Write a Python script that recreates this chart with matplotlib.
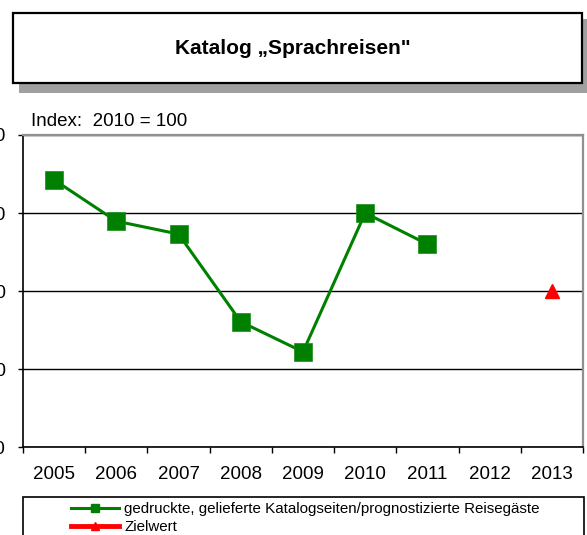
import matplotlib
matplotlib.use("Agg")
import matplotlib.pyplot as plt
from matplotlib.patches import Rectangle
from matplotlib.lines import Line2D

plt.rcParams['font.family'] = ['Liberation Sans', 'DejaVu Sans']

# Daten (Index: 2010 = 100)
jahre = ["2005", "2006", "2007", "2008", "2009", "2010", "2011", "2012", "2013"]
katalog_jahre = ["2005", "2006", "2007", "2008", "2009", "2010", "2011"]
katalog_werte = [108.5, 97.9, 94.6, 72.1, 64.4, 100.0, 92.0]
ziel_jahre = ["2013"]
ziel_werte = [80.0]
y_ticks = [40, 60, 80, 100, 120]

W, H = 587, 535
fig = plt.figure(figsize=(W / 100, H / 100), dpi=100)

def fx(px):
    return px / W

def fy(py):
    return 1 - py / H

# Titelkasten mit Schatten
fig.patches.append(Rectangle((fx(19), fy(93)), fx(592) - fx(19), fy(19) - fy(93),
                             transform=fig.transFigure, facecolor="#a0a0a0",
                             edgecolor="none", zorder=0))
fig.patches.append(Rectangle((fx(13), fy(83)), fx(582) - fx(13), fy(13) - fy(83),
                             transform=fig.transFigure, facecolor="white",
                             edgecolor="black", linewidth=1.6, zorder=1))
fig.text(fx(293), fy(48), "Katalog \u201eSprachreisen\"", ha="center", va="center",
         fontsize=15, fontweight="bold")

# Diagramm
ax = fig.add_axes([fx(23), fy(447), fx(583) - fx(23), fy(135) - fy(447)])
x_pos = {j: i for i, j in enumerate(jahre)}
ax.plot([x_pos[j] for j in katalog_jahre], katalog_werte, color="#008000", lw=2.2,
        marker="s", markersize=13, markerfacecolor="#008000",
        markeredgecolor="#1a8c1a", markeredgewidth=0.5, zorder=3)
ax.plot([x_pos[j] for j in ziel_jahre], ziel_werte, color="red", lw=0,
        marker="^", markersize=9.5, zorder=3)

ax.set_xlim(-0.5, len(jahre) - 0.5)
ax.set_ylim(y_ticks[0], y_ticks[-1])
ax.set_yticks(y_ticks)
ax.set_yticklabels([str(v) for v in y_ticks])
ax.set_xticks(range(len(jahre)))
ax.set_xticklabels(jahre)
ax.set_xticks([i - 0.5 for i in range(len(jahre) + 1)], minor=True)
ax.tick_params(axis="x", which="major", length=0, pad=14, labelsize=13.5)
ax.tick_params(axis="x", which="minor", length=4, width=1, direction="out")
ax.tick_params(axis="y", length=3.5, width=1, direction="out", pad=9, labelsize=13.5)
ax.yaxis.grid(True, color="black", lw=1)
ax.set_axisbelow(True)
for s in ["left", "bottom"]:
    ax.spines[s].set_color("black")
    ax.spines[s].set_linewidth(1.2)
for s in ["top", "right"]:
    ax.spines[s].set_color("#909090")
    ax.spines[s].set_linewidth(1.6)

fig.text(fx(31), fy(122), "Index:  2010 = 100", ha="left", va="center", fontsize=13.5)

# Legende
fig.patches.append(Rectangle((fx(23), fy(545)), fx(584) - fx(23), fy(497) - fy(545),
                             transform=fig.transFigure, facecolor="white",
                             edgecolor="black", linewidth=1.2, zorder=1))
handles = [
    Line2D([], [], color="#008000", lw=2.2, marker="s", markersize=6),
    Line2D([], [], color="red", lw=3.5, marker="^", markersize=6),
]
labels = ["gedruckte, gelieferte Katalogseiten/prognostizierte Reisegäste", "Zielwert"]
fig.legend(handles, labels, loc="upper left", bbox_to_anchor=(fx(68), fy(499)),
           frameon=False, fontsize=10.9, handlelength=3.2, handletextpad=0.3,
           labelspacing=0.28, borderpad=0.2, borderaxespad=0)

fig.savefig("out.png", dpi=100)
